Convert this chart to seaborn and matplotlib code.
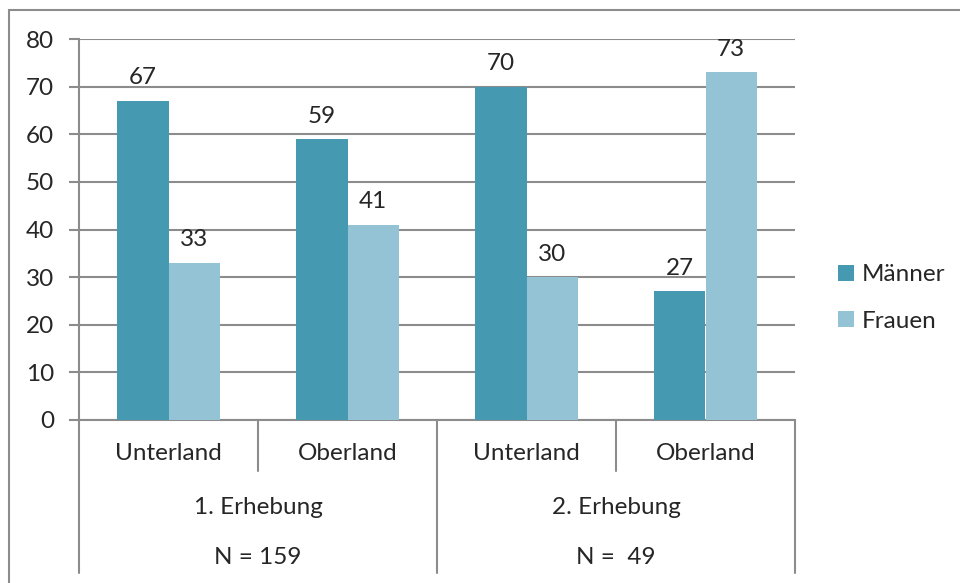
import pandas as pd
import seaborn as sns
import matplotlib.pyplot as plt
from matplotlib.lines import Line2D
from matplotlib.transforms import blended_transform_factory

# Survey values (percent)
regions = ['Unterland', 'Oberland', 'Unterland', 'Oberland']
surveys = ['1. Erhebung', '2. Erhebung']
survey_n = ['N = 159', 'N =  49']
maenner = [67, 59, 70, 27]
frauen = [33, 41, 30, 73]

positions = ['E1 Unterland', 'E1 Oberland', 'E2 Unterland', 'E2 Oberland']
df = pd.DataFrame({
    'pos': positions * 2,
    'Geschlecht': ['Männer'] * 4 + ['Frauen'] * 4,
    'Wert': maenner + frauen,
})

sns.set_style('white')
plt.rcParams['font.family'] = ['Lato', 'DejaVu Sans']
grey = '#8c8c8c'
fs = 17.5

fig = plt.figure(figsize=(9.6, 5.83), dpi=100)
ax = fig.add_axes([79 / 960, 1 - 420 / 583, (795 - 79) / 960, (420 - 39) / 583])

sns.barplot(data=df, x='pos', y='Wert', hue='Geschlecht', order=positions,
            palette={'Männer': '#4599b1', 'Frauen': '#93c3d4'},
            width=0.57, gap=0, saturation=1, linewidth=0, ax=ax, zorder=3)

for c in ax.containers:
    ax.bar_label(c, padding=9, fontsize=fs)

ax.set_ylim(0, 80)
ax.set_yticks(range(0, 81, 10))
ax.set_xlim(-0.5, 3.5)
ax.set_xlabel('')
ax.set_ylabel('')
ax.set_xticks([])
ax.yaxis.grid(True, color=grey, linewidth=1.5, zorder=0)
ax.tick_params(axis='y', labelsize=fs, left=True, length=7, width=1.5,
               color=grey, pad=11)
for s in ['top', 'right']:
    ax.spines[s].set_visible(False)
for s in ['left', 'bottom']:
    ax.spines[s].set_color(grey)
    ax.spines[s].set_linewidth(1.5)

# multi-level category axis
tr = blended_transform_factory(ax.transData, ax.transAxes)
axh = 420 - 39
for xb in [0.5, 2.5]:
    ax.add_line(Line2D([xb, xb], [0, -51 / axh], transform=tr, color=grey,
                       lw=1.5, clip_on=False))
for xb in [-0.5, 1.5, 3.5]:
    ax.add_line(Line2D([xb, xb], [0, -153 / axh], transform=tr, color=grey,
                       lw=1.5, clip_on=False))
for i, r in enumerate(regions):
    ax.text(i, -33 / axh, r, transform=tr, ha='center', va='center', fontsize=fs)
for j, (s, n) in enumerate(zip(surveys, survey_n)):
    ax.text(2 * j + 0.5, -87 / axh, s, transform=tr, ha='center', va='center', fontsize=fs)
    ax.text(2 * j + 0.5, -137 / axh, n, transform=tr, ha='center', va='center', fontsize=fs)

# legend
handles, labels = ax.get_legend_handles_labels()
ax.legend(handles, labels, loc='center left', bbox_to_anchor=(816 / 960, 1 - 298 / 583),
          bbox_transform=fig.transFigure, frameon=False, fontsize=fs,
          handlelength=0.65, handleheight=0.65, handletextpad=0.35, labelspacing=1.05)

# outer chart frame (cropped at right/bottom)
fig.add_artist(Line2D([9 / 960, 1], [1 - 10 / 583, 1 - 10 / 583],
                      transform=fig.transFigure, color=grey, lw=1.5))
fig.add_artist(Line2D([9 / 960, 9 / 960], [0, 1 - 10 / 583],
                      transform=fig.transFigure, color=grey, lw=1.5))

fig.savefig('out.png', dpi=100)
